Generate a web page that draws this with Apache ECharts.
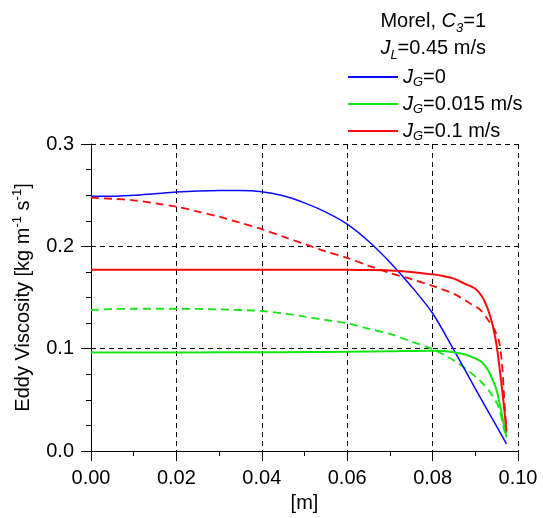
<!DOCTYPE html>
<html>
<head>
<meta charset="utf-8">
<script src="https://cdn.jsdelivr.net/npm/echarts@6/dist/echarts.min.js"></script>
<style>
  html, body { margin: 0; padding: 0; background: #fff; }
  #chart { width: 543px; height: 518px; }
</style>
</head>
<body>
<div id="chart"></div>
<script>
// Radial position [m] and eddy viscosity [kg m^-1 s^-1] for each gas flux.
// Solid curves: J_G = 0
const posJG0 = [0, 0.005, 0.01, 0.015, 0.02, 0.025, 0.03, 0.035, 0.04, 0.045, 0.05, 0.055, 0.06, 0.065, 0.07, 0.075, 0.08, 0.085, 0.09, 0.095, 0.0973];
const visJG0 = [0.249, 0.249, 0.250, 0.2515, 0.253, 0.254, 0.2545, 0.2545, 0.2533, 0.2495, 0.2425, 0.2335, 0.2217, 0.205, 0.1845, 0.161, 0.1346, 0.0985, 0.061, 0.024, 0.007];

// J_G = 0.015 m/s
const posJG015 = [0, 0.01, 0.02, 0.03, 0.04, 0.05, 0.06, 0.07, 0.08, 0.0825, 0.085, 0.0875, 0.09, 0.0915, 0.093, 0.094, 0.095, 0.096, 0.0967, 0.0973];
const visJG015 = [0.0962, 0.0962, 0.0963, 0.0964, 0.0965, 0.0967, 0.097, 0.0975, 0.098, 0.0978, 0.0965, 0.0945, 0.0905, 0.087, 0.079, 0.070, 0.0594, 0.040, 0.0255, 0.0136];

// J_G = 0.1 m/s
const posJG1 = [0, 0.01, 0.02, 0.03, 0.04, 0.05, 0.06, 0.065, 0.07, 0.075, 0.08, 0.0825, 0.085, 0.0875, 0.09, 0.0915, 0.093, 0.094, 0.095, 0.096, 0.0967, 0.0973];
const visJG1 = [0.177, 0.177, 0.177, 0.177, 0.177, 0.177, 0.177, 0.1768, 0.1765, 0.175, 0.1726, 0.171, 0.1685, 0.1635, 0.1585, 0.1515, 0.138, 0.124, 0.103, 0.070, 0.044, 0.020];

// Dashed companion curves
const posJG015d = [0, 0.005, 0.01, 0.02, 0.03, 0.04, 0.045, 0.05, 0.055, 0.06, 0.065, 0.07, 0.075, 0.08, 0.085, 0.088, 0.0912, 0.0935, 0.0955, 0.0966, 0.0973];
const visJG015d = [0.1378, 0.1388, 0.139, 0.139, 0.1384, 0.1368, 0.1345, 0.1313, 0.128, 0.1249, 0.1195, 0.1145, 0.107, 0.0995, 0.0885, 0.0797, 0.0684, 0.0571, 0.0426, 0.023, 0.012];

const posJG1d = [0, 0.005, 0.01, 0.015, 0.02, 0.025, 0.03, 0.035, 0.04, 0.045, 0.05, 0.055, 0.06, 0.065, 0.07, 0.075, 0.08, 0.085, 0.0888, 0.0912, 0.093, 0.0943, 0.0955, 0.0962, 0.0968, 0.0973];
const visJG1d = [0.2475, 0.2465, 0.245, 0.242, 0.2388, 0.234, 0.229, 0.223, 0.2168, 0.2095, 0.2023, 0.195, 0.1888, 0.181, 0.174, 0.168, 0.1613, 0.1535, 0.1442, 0.1378, 0.128, 0.120, 0.108, 0.088, 0.050, 0.018];

const legendNames = ['JG=0', 'JG=0.015 m/s', 'JG=0.1 m/s'];
const legendRich = {
  'JG=0': '{i|J}{s|G}{n|=0}',
  'JG=0.015 m/s': '{i|J}{s|G}{n|=0.015 m/s}',
  'JG=0.1 m/s': '{i|J}{s|G}{n|=0.1 m/s}'
};

const FONT = 'Liberation Sans, Arial, sans-serif';
const FS = 20;
const BLUE = '#0a0aff';
const GREEN = '#14e614';
const RED = '#ff0a0a';

function pairs(xs, ys) { return xs.map((x, k) => [x, ys[k]]); }

function richSet(lh) {
  return {
    n: { fontFamily: FONT, fontSize: FS, color: '#000', lineHeight: lh },
    i: { fontFamily: FONT, fontSize: FS, color: '#000', fontStyle: 'italic', lineHeight: lh },
    s: { fontFamily: FONT, fontSize: 13, color: '#000', fontStyle: 'italic', verticalAlign: 'bottom', lineHeight: lh }
  };
}

function lineSeries(name, xs, ys, color, dashed, width) {
  return {
    name: name,
    type: 'line',
    data: pairs(xs, ys),
    smooth: 0.3,
    symbol: 'none',
    lineStyle: { color: color, width: width, type: dashed ? [8, 5] : 'solid' },
    itemStyle: { color: color },
    z: dashed ? 3 : 4
  };
}

const chart = echarts.init(document.getElementById('chart'), null, { renderer: 'canvas' });
chart.setOption({
  animation: false,
  backgroundColor: '#fff',
  grid: { left: 91, right: 25, top: 144, bottom: 64, containLabel: false },
  graphic: [
    {
      type: 'text',
      x: 486,
      y: 8,
      style: {
        align: 'right',
        verticalAlign: 'top',
        text: '{n|Morel, }{i|C}{s|3}{n|=1}\n{i|J}{s|L}{n|=0.45 m/s}',
        rich: richSet(27)
      }
    }
  ],
  legend: {
    data: legendNames,
    orient: 'vertical',
    left: 343,
    top: 62,
    icon: 'rect',
    itemWidth: 50,
    itemHeight: 2,
    itemGap: 5,
    selectedMode: false,
    formatter: name => legendRich[name],
    textStyle: { fontFamily: FONT, fontSize: FS, color: '#000', rich: richSet(24) }
  },
  xAxis: {
    type: 'value',
    min: 0,
    max: 0.1,
    interval: 0.02,
    name: '[m]',
    nameLocation: 'middle',
    nameGap: 42,
    nameTextStyle: { fontFamily: FONT, fontSize: FS, color: '#000' },
    axisLine: { show: true, onZero: false, lineStyle: { color: '#000', width: 1 } },
    axisTick: { show: true, inside: false, length: 10, lineStyle: { color: '#000' } },
    minorTick: { show: true, splitNumber: 2, length: 5, lineStyle: { color: '#000' } },
    axisLabel: { fontFamily: FONT, fontSize: FS, color: '#000', margin: 17, formatter: v => v.toFixed(2) },
    splitLine: { show: true, lineStyle: { color: '#000', width: 1, type: [5, 4] } }
  },
  yAxis: {
    type: 'value',
    min: 0,
    max: 0.3,
    interval: 0.1,
    name: 'Eddy Viscosity [kg m{p|-1} s{p|-1}]',
    nameLocation: 'middle',
    nameRotate: 90,
    nameGap: 47,
    nameTextStyle: {
      fontFamily: FONT, fontSize: FS, color: '#000', lineHeight: 24,
      rich: {
        p: { fontFamily: FONT, fontSize: 13, color: '#000', verticalAlign: 'top', lineHeight: 24 }
      }
    },
    axisLine: { show: true, onZero: false, lineStyle: { color: '#000', width: 1 } },
    axisTick: { show: true, inside: false, length: 10, lineStyle: { color: '#000' } },
    minorTick: { show: true, splitNumber: 4, length: 5, lineStyle: { color: '#000' } },
    axisLabel: { fontFamily: FONT, fontSize: FS, color: '#000', margin: 17, formatter: v => v.toFixed(1) },
    splitLine: { show: true, lineStyle: { color: '#000', width: 1, type: [5, 4] } }
  },
  series: [
    lineSeries('JG=0.1 m/s, dashed', posJG1d, visJG1d, RED, true, 1.8),
    lineSeries('JG=0.015 m/s, dashed', posJG015d, visJG015d, GREEN, true, 1.8),
    lineSeries('JG=0', posJG0, visJG0, BLUE, false, 1.5),
    lineSeries('JG=0.015 m/s', posJG015, visJG015, GREEN, false, 2),
    lineSeries('JG=0.1 m/s', posJG1, visJG1, RED, false, 2)
  ]
});
</script>
</body>
</html>
